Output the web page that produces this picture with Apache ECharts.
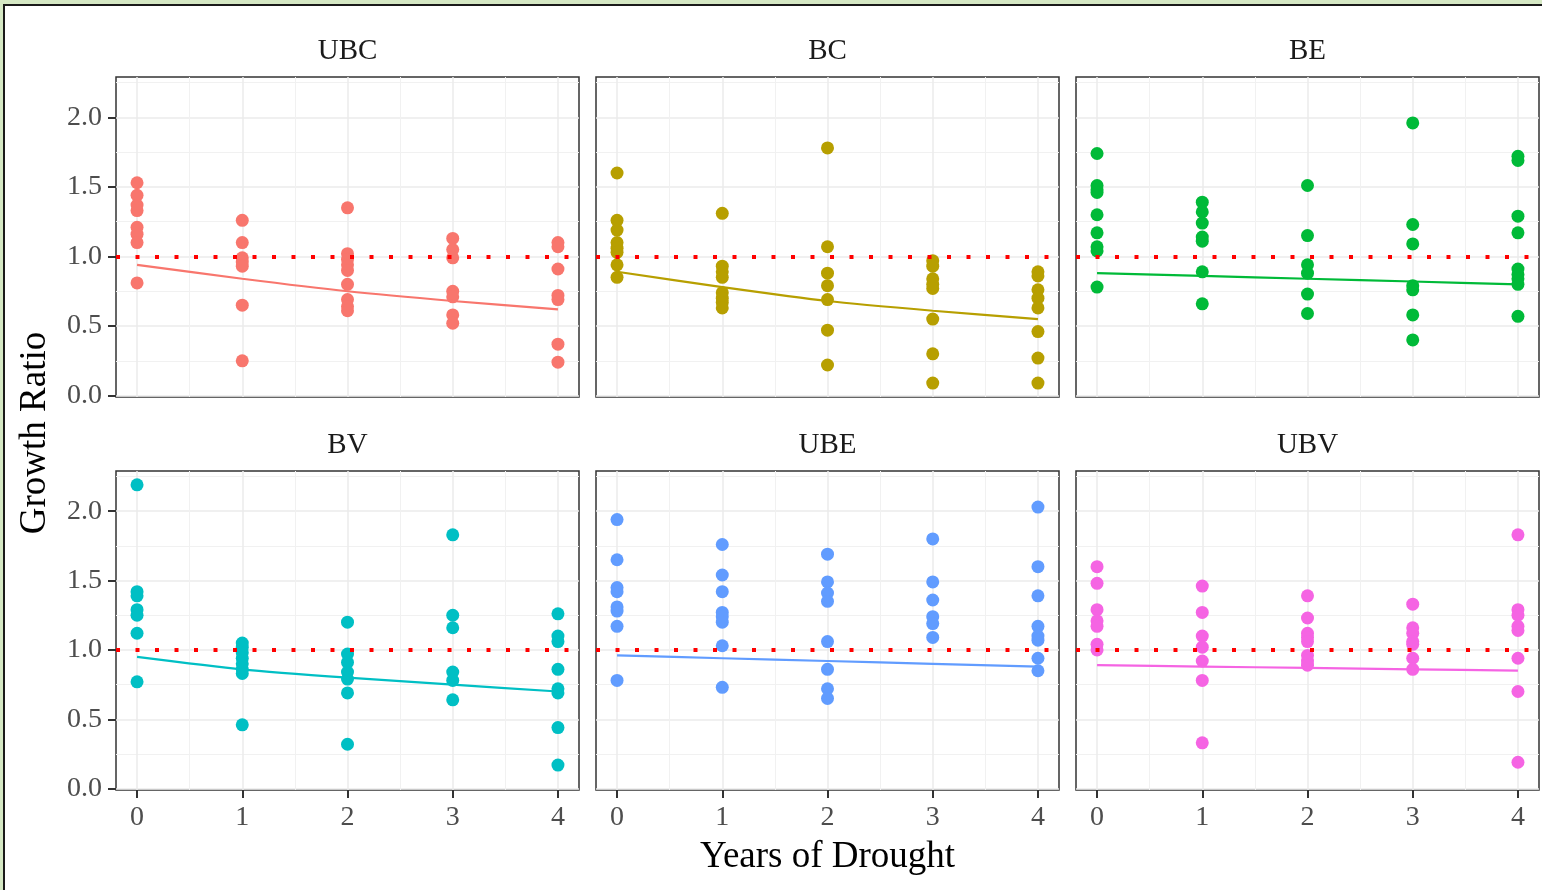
<!DOCTYPE html>
<html><head><meta charset="utf-8">
<script src="https://cdn.jsdelivr.net/npm/echarts@6/dist/echarts.min.js"></script>
<style>
html,body{margin:0;padding:0;background:#d5e8c4;overflow:hidden;width:1542px;height:890px;}
#frame{position:absolute;left:3px;top:4px;width:1600px;height:1000px;background:#fff;border:2px solid #1a1a1a;}
#c{position:absolute;left:0;top:0;width:1542px;height:890px;}
</style>
</head><body><div id="frame"></div><div id="c"></div>
<script>
// ---- data ----
const panelNames = ['UBC', 'BC', 'BE', 'BV', 'UBE', 'UBV'];
const panelColors = ['#F8766D', '#B79F00', '#00BA38', '#00BFC4', '#619CFF', '#F564E3'];
const years = [0, 1, 2, 3, 4];
const xTickValues = [0, 1, 2, 3, 4];
const xMinorValues = [0.5, 1.5, 2.5, 3.5];
const yTickValues = [0, 0.5, 1, 1.5, 2];
const yMinorValues = [0.25, 0.75, 1.25, 1.75, 2.25];
const refLevel = 1;
const xTitle = 'Years of Drought';
const yTitle = 'Growth Ratio';

// points per year (index = years)
const ubcPoints = [
  [1.53, 1.44, 1.37, 1.33, 1.21, 1.16, 1.10, 0.81],
  [1.26, 1.10, 0.99, 0.96, 0.93, 0.65, 0.25],
  [1.35, 1.02, 0.98, 0.94, 0.90, 0.80, 0.69, 0.64, 0.61],
  [1.13, 1.05, 0.99, 0.75, 0.71, 0.58, 0.52],
  [1.10, 1.07, 0.91, 0.72, 0.69, 0.37, 0.24]
];
const ubcFit = [0.94, 0.84, 0.75, 0.68, 0.62];

const bcPoints = [
  [1.60, 1.26, 1.19, 1.10, 1.06, 1.03, 0.94, 0.85],
  [1.31, 0.93, 0.89, 0.85, 0.74, 0.70, 0.67, 0.63],
  [1.78, 1.07, 0.88, 0.79, 0.69, 0.47, 0.22],
  [0.97, 0.93, 0.84, 0.80, 0.77, 0.55, 0.30, 0.09],
  [0.89, 0.86, 0.76, 0.70, 0.63, 0.46, 0.27, 0.09]
];
const bcFit = [0.89, 0.78, 0.68, 0.61, 0.55];

const bePoints = [
  [1.74, 1.51, 1.48, 1.46, 1.30, 1.17, 1.07, 1.04, 0.78],
  [1.39, 1.32, 1.24, 1.14, 1.11, 0.89, 0.66],
  [1.51, 1.15, 0.94, 0.88, 0.73, 0.59],
  [1.96, 1.23, 1.09, 0.79, 0.76, 0.58, 0.40],
  [1.72, 1.69, 1.29, 1.17, 0.91, 0.87, 0.84, 0.80, 0.57]
];
const beFit = [0.88, 0.86, 0.84, 0.82, 0.80];

const bvPoints = [
  [2.19, 1.42, 1.39, 1.29, 1.25, 1.12, 0.77],
  [1.05, 1.02, 0.98, 0.94, 0.90, 0.86, 0.83, 0.46],
  [1.20, 0.97, 0.91, 0.84, 0.79, 0.69, 0.32],
  [1.83, 1.25, 1.16, 0.84, 0.78, 0.64],
  [1.26, 1.10, 1.06, 0.86, 0.72, 0.69, 0.44, 0.17]
];
const bvFit = [0.95, 0.86, 0.80, 0.75, 0.70];

const ubePoints = [
  [1.94, 1.65, 1.45, 1.42, 1.31, 1.28, 1.17, 0.78],
  [1.76, 1.54, 1.42, 1.27, 1.24, 1.20, 1.03, 0.73],
  [1.69, 1.49, 1.41, 1.35, 1.06, 0.86, 0.72, 0.65],
  [1.80, 1.49, 1.36, 1.24, 1.19, 1.09],
  [2.03, 1.60, 1.39, 1.17, 1.10, 1.07, 0.94, 0.85]
];
const ubeFit = [0.96, 0.94, 0.92, 0.90, 0.88];

const ubvPoints = [
  [1.60, 1.48, 1.29, 1.21, 1.17, 1.04, 1.00],
  [1.46, 1.27, 1.10, 1.02, 0.92, 0.78, 0.33],
  [1.39, 1.23, 1.12, 1.09, 1.06, 0.96, 0.92, 0.89],
  [1.33, 1.16, 1.12, 1.06, 1.04, 0.94, 0.86],
  [1.83, 1.29, 1.25, 1.17, 1.14, 0.94, 0.70, 0.19]
];
const ubvFit = [0.89, 0.88, 0.87, 0.86, 0.85];

const panelPoints = [ubcPoints, bcPoints, bePoints, bvPoints, ubePoints, ubvPoints];
const panelFits = [ubcFit, bcFit, beFit, bvFit, ubeFit, ubvFit];

// ---- layout ----
const colLeft = [116, 596, 1076];
const panelW = 463;
const rowTop = [77, 471];
const rowH = [320, 319];
const FONT = '"Liberation Serif", "Times New Roman", serif';
const majorGrid = { color: '#ebebeb', width: 1.5 };
const minorGrid = { color: '#f1f1f1', width: 1 };
const tickStyle = { color: '#333333', width: 2 };
const hiddenLine = { show: false, onZero: false };

const grids = [], xAxes = [], yAxes = [], series = [], graphics = [];

panelNames.forEach((name, i) => {
  const col = i % 3, row = Math.floor(i / 3);
  grids.push({
    left: colLeft[col], top: rowTop[row], width: panelW, height: rowH[row],
    show: true, backgroundColor: '#ffffff', borderColor: '#333333', borderWidth: 1.5
  });
  // major x
  xAxes.push({
    gridIndex: i, type: 'value', min: -0.2, max: 4.2, position: 'bottom',
    axisLine: hiddenLine,
    axisTick: { show: row === 1, customValues: xTickValues, length: 8, lineStyle: tickStyle },
    axisLabel: { show: row === 1, customValues: xTickValues, fontFamily: FONT, fontSize: 28, color: '#4d4d4d', margin: 14 },
    splitLine: { show: true, lineStyle: majorGrid }
  });
  // minor x
  xAxes.push({
    gridIndex: i, type: 'value', min: -0.2, max: 4.2, position: 'top',
    axisLine: hiddenLine,
    axisTick: { show: false, customValues: xMinorValues },
    axisLabel: { show: false, customValues: xMinorValues },
    splitLine: { show: true, lineStyle: minorGrid }
  });
  yAxes.push({
    gridIndex: i, type: 'value', min: -0.01, max: 2.29, position: 'left',
    axisLine: hiddenLine,
    axisTick: { show: col === 0, customValues: yTickValues, length: 8, lineStyle: tickStyle },
    axisLabel: { show: col === 0, customValues: yTickValues, formatter: v => v.toFixed(1), fontFamily: FONT, fontSize: 28, color: '#4d4d4d', margin: 14 },
    splitLine: { show: true, lineStyle: majorGrid }
  });
  yAxes.push({
    gridIndex: i, type: 'value', min: -0.01, max: 2.29, position: 'right',
    axisLine: hiddenLine,
    axisTick: { show: false, customValues: yMinorValues },
    axisLabel: { show: false, customValues: yMinorValues },
    splitLine: { show: true, lineStyle: minorGrid }
  });

  const pts = [];
  years.forEach((yr, j) => panelPoints[i][j].forEach(v => pts.push([yr, v])));
  series.push({
    type: 'scatter', xAxisIndex: 2 * i, yAxisIndex: 2 * i, data: pts,
    symbolSize: 13, itemStyle: { color: panelColors[i], opacity: 1 }, z: 2, silent: true
  });
  series.push({
    type: 'line', xAxisIndex: 2 * i, yAxisIndex: 2 * i,
    data: years.map((yr, j) => [yr, panelFits[i][j]]),
    showSymbol: false, smooth: 0.25, lineStyle: { color: panelColors[i], width: 2.2 }, z: 3, silent: true,
    markLine: {
      silent: true, symbol: ['none', 'none'], label: { show: false },
      lineStyle: { color: '#ff0000', width: 4, type: [4, 15.5] },
      data: [{ yAxis: refLevel }], z: 4
    }
  });

  graphics.push({
    type: 'text', x: colLeft[col] + panelW / 2, y: rowTop[row] - 26,
    style: { text: name, fontFamily: FONT, fontSize: 29, fill: '#1a1a1a', align: 'center', verticalAlign: 'middle', textAlign: 'center', textVerticalAlign: 'middle' }
  });
});

graphics.push({
  type: 'text', x: colLeft[1] + panelW / 2, y: 857,
  style: { text: xTitle, fontFamily: FONT, fontSize: 37, fill: '#000', align: 'center', verticalAlign: 'middle', textAlign: 'center', textVerticalAlign: 'middle' }
});
graphics.push({
  type: 'text', x: 35, y: 433, rotation: Math.PI / 2,
  style: { text: yTitle, fontFamily: FONT, fontSize: 37, fill: '#000', align: 'center', verticalAlign: 'middle', textAlign: 'center', textVerticalAlign: 'middle' }
});

const chart = echarts.init(document.getElementById('c'), null, { renderer: 'canvas' });
chart.setOption({
  animation: false,
  backgroundColor: 'transparent',
  grid: grids, xAxis: xAxes, yAxis: yAxes, series: series,
  graphic: graphics
});
</script>
</body></html>
